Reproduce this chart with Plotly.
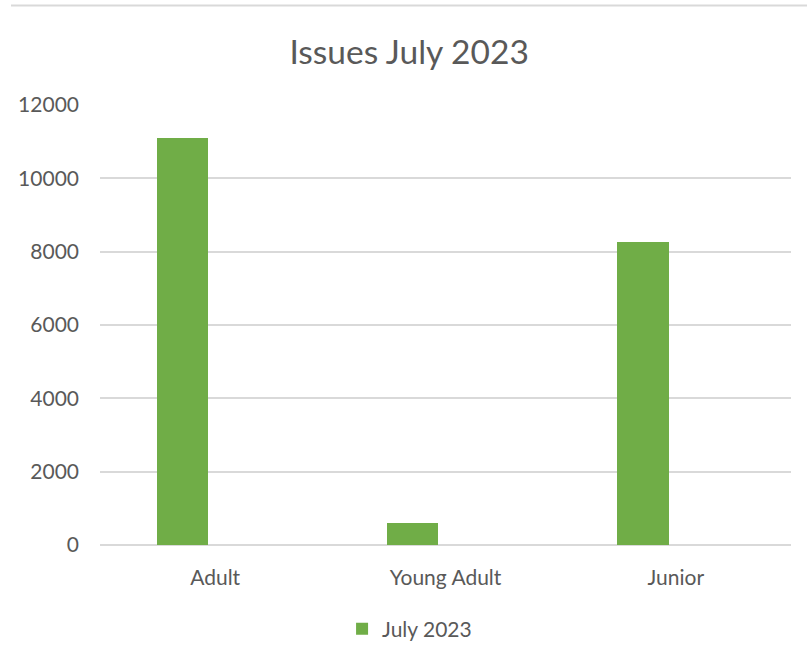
import plotly.graph_objects as go

categories = ["Adult", "Young Adult", "Junior"]
values = [11090, 610, 8270]
series_name = "July 2023"
title_text = "Issues July 2023"

FONT = "Lato"
TXT = "#595959"
GRID = "#D9D9D9"
GREEN = "#70AD47"

fig = go.Figure()
fig.add_trace(go.Bar(
    x=categories, y=values, name=series_name,
    marker=dict(color=GREEN, line=dict(width=0)),
    width=0.222, offset=-0.2535,
))

fig.update_layout(
    width=807, height=665,
    margin=dict(l=100, r=16, t=105, b=120),
    paper_bgcolor="white", plot_bgcolor="white",
    font=dict(family=FONT, color=TXT, size=21),
    title=dict(text=title_text, x=0.507, xanchor="center", y=0.921, yanchor="middle",
               font=dict(family=FONT, size=33.5, color=TXT)),
    showlegend=True,
    legend=dict(orientation="h", x=0.448, xanchor="center", y=-0.191, yanchor="middle",
                font=dict(family=FONT, size=21, color=TXT), itemwidth=30,
                bgcolor="rgba(0,0,0,0)"),
    bargap=0,
)
fig.update_xaxes(type="category", range=[-0.5, 2.5], showline=False, ticks="",
                 ticklabelstandoff=18, showgrid=False)
fig.update_yaxes(range=[0, 12000], dtick=2000, showgrid=True, gridcolor=GRID, gridwidth=1.5,
                 zeroline=True, zerolinecolor=GRID, zerolinewidth=1.5, showline=False,
                 ticks="", ticklabelstandoff=20, tickformat="d")

fig.add_shape(type="line", xref="paper", yref="paper",
              x0=(11 - 100) / 691, x1=(807 - 100) / 691,
              y0=(545 - 5.5) / 440, y1=(545 - 5.5) / 440,
              line=dict(color=GRID, width=2))

fig.write_html("out.html")
